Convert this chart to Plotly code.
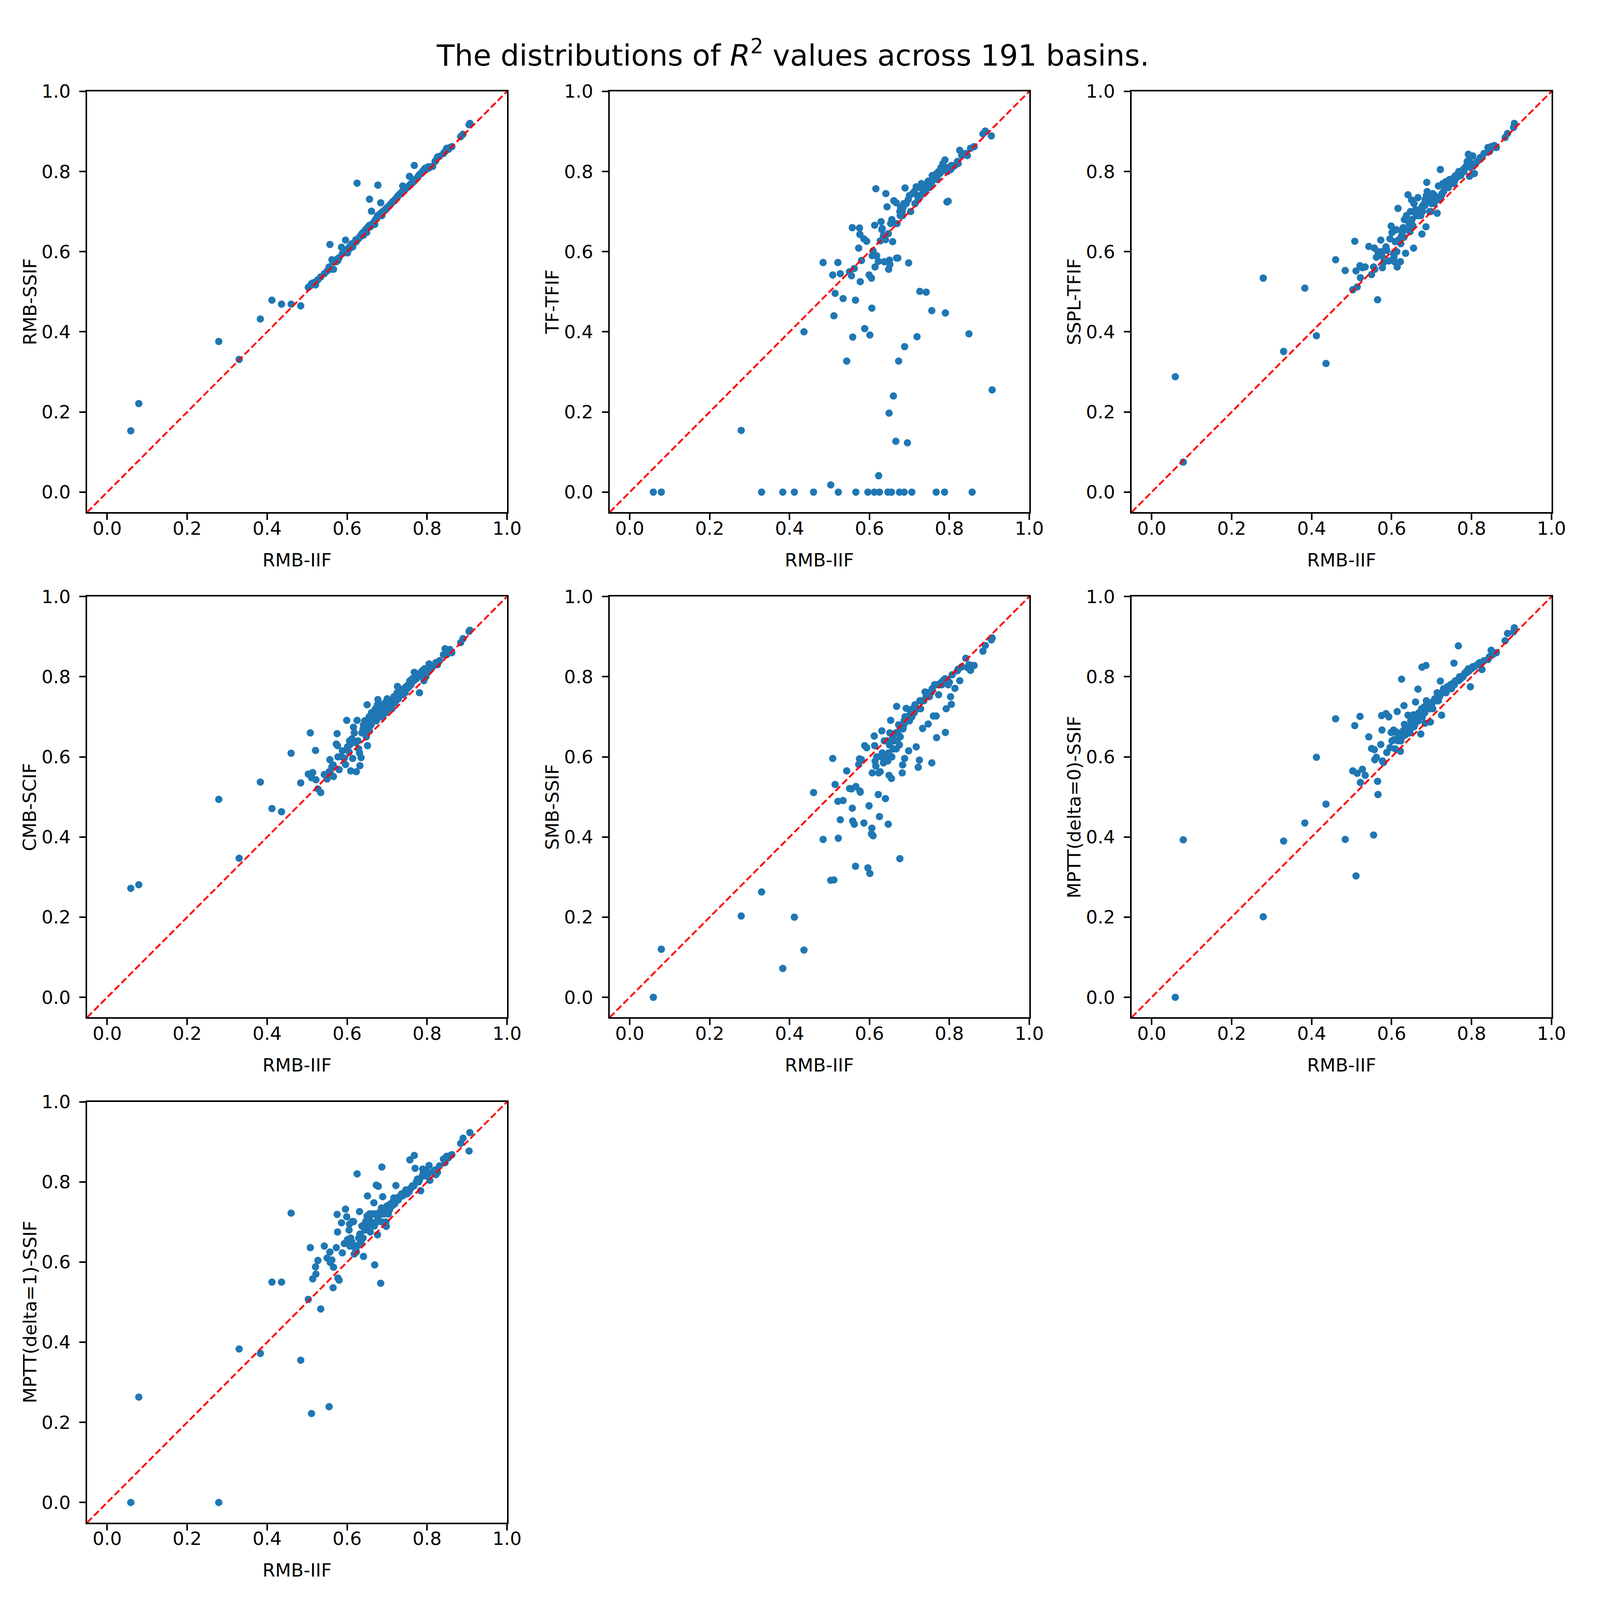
import plotly.graph_objects as go

# RMB-IIF (shared x for all panels)
rmb_iif = [0.059, 0.079, 0.279, 0.330, 0.383, 0.412, 0.436, 0.460, 0.484, 0.503,
           0.508, 0.511, 0.514, 0.521, 0.522, 0.527, 0.534, 0.543, 0.550, 0.555,
           0.557, 0.558, 0.562, 0.565, 0.566, 0.573, 0.575, 0.576, 0.577, 0.580,
           0.586, 0.588, 0.593, 0.596, 0.599, 0.601, 0.605, 0.606, 0.607, 0.609,
           0.612, 0.613, 0.614, 0.616, 0.618, 0.622, 0.623, 0.625, 0.627, 0.629,
           0.631, 0.632, 0.635, 0.637, 0.640, 0.641, 0.644, 0.646, 0.647, 0.648,
           0.649, 0.650, 0.651, 0.653, 0.655, 0.656, 0.658, 0.660, 0.661, 0.666,
           0.667, 0.668, 0.669, 0.671, 0.673, 0.675, 0.676, 0.677, 0.678, 0.682,
           0.683, 0.684, 0.686, 0.687, 0.688, 0.689, 0.692, 0.695, 0.697, 0.698,
           0.700, 0.703, 0.706, 0.708, 0.712, 0.714, 0.717, 0.719, 0.720, 0.722,
           0.725, 0.726, 0.728, 0.730, 0.733, 0.736, 0.739, 0.742, 0.745, 0.747,
           0.750, 0.753, 0.755, 0.756, 0.757, 0.760, 0.763, 0.767, 0.768, 0.770,
           0.773, 0.776, 0.779, 0.781, 0.784, 0.788, 0.789, 0.790, 0.792, 0.794,
           0.795, 0.797, 0.800, 0.803, 0.805, 0.807, 0.814, 0.820, 0.822, 0.826,
           0.831, 0.841, 0.845, 0.849, 0.853, 0.857, 0.862, 0.884, 0.890, 0.905,
           0.907]

rmb_ssif = [0.153, 0.221, 0.376, 0.331, 0.432, 0.479, 0.469, 0.469, 0.465, 0.511,
            0.515, 0.520, 0.522, 0.517, 0.525, 0.530, 0.537, 0.545, 0.552, 0.562,
            0.618, 0.556, 0.580, 0.575, 0.556, 0.575, 0.580, 0.582, 0.578, 0.585,
            0.611, 0.595, 0.600, 0.629, 0.605, 0.597, 0.610, 0.612, 0.608, 0.615,
            0.620, 0.618, 0.612, 0.620, 0.622, 0.630, 0.625, 0.771, 0.632, 0.633,
            0.635, 0.638, 0.640, 0.645, 0.648, 0.641, 0.650, 0.655, 0.652, 0.650,
            0.648, 0.658, 0.660, 0.662, 0.665, 0.731, 0.662, 0.668, 0.701, 0.672,
            0.670, 0.675, 0.668, 0.680, 0.682, 0.686, 0.690, 0.766, 0.688, 0.690,
            0.695, 0.722, 0.695, 0.690, 0.698, 0.700, 0.702, 0.705, 0.705, 0.708,
            0.710, 0.712, 0.715, 0.718, 0.722, 0.725, 0.726, 0.728, 0.730, 0.732,
            0.735, 0.738, 0.740, 0.742, 0.745, 0.748, 0.764, 0.752, 0.755, 0.758,
            0.760, 0.762, 0.765, 0.788, 0.766, 0.770, 0.772, 0.775, 0.815, 0.780,
            0.782, 0.785, 0.790, 0.792, 0.795, 0.798, 0.800, 0.802, 0.804, 0.806,
            0.808, 0.805, 0.810, 0.812, 0.809, 0.812, 0.813, 0.825, 0.828, 0.836,
            0.838, 0.845, 0.850, 0.858, 0.855, 0.860, 0.862, 0.887, 0.893, 0.917,
            0.920]

tf_tfif = [0.000, 0.000, 0.154, 0.000, 0.000, 0.000, 0.400, 0.000, 0.573, 0.018,
           0.542, 0.440, 0.496, 0.573, 0.000, 0.545, 0.483, 0.327, 0.550, 0.540,
           0.660, 0.387, 0.558, 0.479, 0.000, 0.609, 0.659, 0.643, 0.525, 0.578,
           0.632, 0.408, 0.626, 0.000, 0.542, 0.392, 0.534, 0.459, 0.590, 0.602,
           0.000, 0.666, 0.562, 0.757, 0.590, 0.576, 0.041, 0.000, 0.627, 0.675,
           0.655, 0.658, 0.640, 0.575, 0.630, 0.745, 0.712, 0.000, 0.645, 0.556,
           0.197, 0.579, 0.568, 0.670, 0.000, 0.680, 0.625, 0.240, 0.727, 0.127,
           0.722, 0.584, 0.670, 0.584, 0.327, 0.000, 0.700, 0.690, 0.710, 0.700,
           0.690, 0.710, 0.720, 0.000, 0.363, 0.759, 0.720, 0.123, 0.730, 0.572,
           0.740, 0.700, 0.000, 0.745, 0.750, 0.720, 0.762, 0.388, 0.740, 0.730,
           0.760, 0.501, 0.740, 0.770, 0.745, 0.760, 0.750, 0.499, 0.770, 0.776,
           0.760, 0.775, 0.770, 0.453, 0.790, 0.780, 0.790, 0.000, 0.795, 0.780,
           0.800, 0.795, 0.810, 0.800, 0.820, 0.000, 0.829, 0.447, 0.810, 0.724,
           0.800, 0.726, 0.810, 0.805, 0.815, 0.810, 0.815, 0.825, 0.820, 0.853,
           0.840, 0.845, 0.840, 0.395, 0.858, 0.000, 0.862, 0.894, 0.901, 0.889,
           0.255]

sspl_tfif = [0.288, 0.075, 0.534, 0.351, 0.509, 0.390, 0.321, 0.580, 0.553, 0.505,
             0.626, 0.552, 0.512, 0.565, 0.535, 0.560, 0.562, 0.613, 0.543, 0.562,
             0.609, 0.556, 0.586, 0.480, 0.600, 0.629, 0.600, 0.589, 0.560, 0.573,
             0.612, 0.603, 0.577, 0.632, 0.664, 0.648, 0.595, 0.587, 0.575, 0.625,
             0.655, 0.600, 0.562, 0.708, 0.630, 0.575, 0.620, 0.640, 0.650, 0.660,
             0.636, 0.680, 0.596, 0.690, 0.655, 0.742, 0.670, 0.650, 0.700, 0.660,
             0.675, 0.729, 0.680, 0.665, 0.609, 0.720, 0.700, 0.705, 0.690, 0.735,
             0.700, 0.690, 0.700, 0.705, 0.690, 0.710, 0.644, 0.700, 0.715, 0.720,
             0.715, 0.730, 0.662, 0.740, 0.773, 0.750, 0.730, 0.700, 0.730, 0.700,
             0.720, 0.745, 0.720, 0.740, 0.730, 0.696, 0.764, 0.730, 0.735, 0.805,
             0.740, 0.745, 0.770, 0.750, 0.760, 0.775, 0.765, 0.760, 0.780, 0.770,
             0.775, 0.780, 0.770, 0.785, 0.775, 0.790, 0.785, 0.790, 0.800, 0.795,
             0.790, 0.800, 0.805, 0.800, 0.810, 0.815, 0.825, 0.820, 0.843, 0.830,
             0.788, 0.810, 0.820, 0.839, 0.815, 0.795, 0.825, 0.830, 0.835, 0.835,
             0.845, 0.860, 0.850, 0.862, 0.860, 0.865, 0.860, 0.885, 0.895, 0.910,
             0.920]

cmb_scif = [0.272, 0.281, 0.494, 0.347, 0.537, 0.471, 0.463, 0.609, 0.535, 0.557,
            0.660, 0.548, 0.561, 0.616, 0.543, 0.520, 0.511, 0.556, 0.545, 0.563,
            0.593, 0.560, 0.575, 0.580, 0.551, 0.632, 0.658, 0.628, 0.600, 0.568,
            0.600, 0.615, 0.597, 0.581, 0.691, 0.625, 0.612, 0.640, 0.630, 0.565,
            0.645, 0.640, 0.596, 0.674, 0.660, 0.635, 0.563, 0.691, 0.640, 0.620,
            0.610, 0.578, 0.598, 0.660, 0.670, 0.680, 0.690, 0.660, 0.670, 0.650,
            0.672, 0.730, 0.628, 0.690, 0.700, 0.665, 0.700, 0.680, 0.710, 0.705,
            0.690, 0.715, 0.700, 0.720, 0.690, 0.710, 0.730, 0.743, 0.700, 0.720,
            0.700, 0.710, 0.700, 0.725, 0.730, 0.700, 0.720, 0.735, 0.710, 0.720,
            0.745, 0.740, 0.720, 0.730, 0.720, 0.740, 0.750, 0.735, 0.745, 0.740,
            0.760, 0.776, 0.745, 0.750, 0.760, 0.765, 0.755, 0.770, 0.760, 0.775,
            0.770, 0.780, 0.775, 0.780, 0.790, 0.780, 0.795, 0.790, 0.811, 0.800,
            0.795, 0.800, 0.805, 0.760, 0.810, 0.815, 0.800, 0.805, 0.790, 0.820,
            0.810, 0.800, 0.815, 0.812, 0.832, 0.820, 0.825, 0.830, 0.835, 0.830,
            0.840, 0.855, 0.870, 0.855, 0.860, 0.868, 0.860, 0.885, 0.895, 0.913,
            0.916]

smb_ssif = [0.000, 0.120, 0.203, 0.263, 0.072, 0.200, 0.118, 0.511, 0.394, 0.292,
            0.596, 0.293, 0.531, 0.489, 0.397, 0.443, 0.491, 0.565, 0.521, 0.520,
            0.472, 0.440, 0.432, 0.327, 0.526, 0.581, 0.595, 0.515, 0.512, 0.593,
            0.435, 0.628, 0.623, 0.323, 0.478, 0.309, 0.408, 0.422, 0.560, 0.403,
            0.652, 0.628, 0.589, 0.577, 0.600, 0.506, 0.560, 0.451, 0.563, 0.600,
            0.665, 0.610, 0.585, 0.640, 0.496, 0.600, 0.640, 0.590, 0.432, 0.610,
            0.554, 0.630, 0.660, 0.691, 0.546, 0.600, 0.650, 0.620, 0.640, 0.660,
            0.620, 0.726, 0.640, 0.660, 0.680, 0.630, 0.346, 0.650, 0.670, 0.560,
            0.580, 0.670, 0.680, 0.690, 0.596, 0.700, 0.721, 0.690, 0.700, 0.615,
            0.690, 0.710, 0.700, 0.720, 0.710, 0.730, 0.625, 0.720, 0.720, 0.574,
            0.592, 0.740, 0.720, 0.740, 0.671, 0.740, 0.762, 0.750, 0.760, 0.682,
            0.750, 0.760, 0.762, 0.585, 0.770, 0.702, 0.780, 0.702, 0.648, 0.780,
            0.755, 0.780, 0.785, 0.780, 0.790, 0.791, 0.795, 0.661, 0.720, 0.793,
            0.793, 0.780, 0.786, 0.750, 0.731, 0.805, 0.771, 0.815, 0.819, 0.790,
            0.825, 0.846, 0.823, 0.830, 0.816, 0.828, 0.828, 0.864, 0.878, 0.892,
            0.897]

mptt0_ssif = [0.000, 0.393, 0.201, 0.390, 0.435, 0.599, 0.482, 0.695, 0.394, 0.565,
              0.678, 0.303, 0.559, 0.701, 0.536, 0.569, 0.554, 0.650, 0.621, 0.405,
              0.618, 0.593, 0.599, 0.539, 0.506, 0.631, 0.703, 0.667, 0.590, 0.586,
              0.708, 0.611, 0.700, 0.623, 0.661, 0.640, 0.667, 0.643, 0.662, 0.620,
              0.662, 0.643, 0.713, 0.640, 0.655, 0.614, 0.640, 0.794, 0.650, 0.665,
              0.728, 0.681, 0.655, 0.660, 0.665, 0.704, 0.672, 0.660, 0.670, 0.690,
              0.680, 0.700, 0.695, 0.690, 0.705, 0.675, 0.680, 0.737, 0.700, 0.769,
              0.690, 0.710, 0.700, 0.710, 0.657, 0.720, 0.824, 0.700, 0.720, 0.725,
              0.710, 0.684, 0.828, 0.740, 0.720, 0.730, 0.730, 0.720, 0.687, 0.735,
              0.730, 0.720, 0.740, 0.745, 0.740, 0.760, 0.740, 0.750, 0.750, 0.789,
              0.704, 0.760, 0.760, 0.770, 0.765, 0.760, 0.775, 0.770, 0.775, 0.780,
              0.770, 0.780, 0.785, 0.834, 0.780, 0.790, 0.790, 0.877, 0.790, 0.800,
              0.795, 0.800, 0.800, 0.805, 0.810, 0.810, 0.815, 0.815, 0.820, 0.815,
              0.820, 0.775, 0.820, 0.825, 0.825, 0.825, 0.830, 0.835, 0.830, 0.818,
              0.840, 0.843, 0.850, 0.866, 0.855, 0.860, 0.860, 0.890, 0.908, 0.912,
              0.922]

mptt1_ssif = [0.000, 0.263, 0.000, 0.383, 0.372, 0.550, 0.550, 0.722, 0.355, 0.507,
              0.636, 0.222, 0.558, 0.588, 0.570, 0.604, 0.483, 0.640, 0.610, 0.239,
              0.625, 0.599, 0.605, 0.536, 0.587, 0.636, 0.719, 0.675, 0.560, 0.555,
              0.698, 0.623, 0.646, 0.732, 0.713, 0.656, 0.680, 0.695, 0.640, 0.660,
              0.650, 0.701, 0.640, 0.701, 0.620, 0.630, 0.625, 0.820, 0.642, 0.660,
              0.726, 0.670, 0.648, 0.690, 0.660, 0.614, 0.680, 0.700, 0.700, 0.690,
              0.705, 0.715, 0.765, 0.690, 0.710, 0.720, 0.675, 0.720, 0.700, 0.720,
              0.748, 0.690, 0.593, 0.720, 0.792, 0.700, 0.668, 0.710, 0.789, 0.725,
              0.720, 0.547, 0.735, 0.837, 0.700, 0.763, 0.720, 0.730, 0.700, 0.689,
              0.740, 0.720, 0.730, 0.745, 0.740, 0.750, 0.760, 0.745, 0.750, 0.791,
              0.760, 0.760, 0.755, 0.760, 0.765, 0.770, 0.765, 0.770, 0.775, 0.780,
              0.770, 0.780, 0.775, 0.780, 0.855, 0.785, 0.790, 0.790, 0.866, 0.834,
              0.800, 0.807, 0.800, 0.805, 0.778, 0.815, 0.832, 0.820, 0.815, 0.820,
              0.825, 0.830, 0.815, 0.820, 0.841, 0.804, 0.825, 0.830, 0.818, 0.824,
              0.840, 0.857, 0.848, 0.864, 0.860, 0.865, 0.868, 0.896, 0.909, 0.877,
              0.923]

panel_series = [rmb_ssif, tf_tfif, sspl_tfif, cmb_scif, smb_ssif, mptt0_ssif, mptt1_ssif]
panel_ylabels = ["RMB-SSIF", "TF-TFIF", "SSPL-TFIF", "CMB-SCIF", "SMB-SSIF",
                 "MPTT(delta=0)-SSIF", "MPTT(delta=1)-SSIF"]
x_label = "RMB-IIF"
title_text = "The distributions of <i>R</i><sup>2</sup> values across 191 basins."
diag_line = [-0.05, 1.0]
tick_vals = [0.0, 0.2, 0.4, 0.6, 0.8, 1.0]
tick_text = ["0.0", "0.2", "0.4", "0.6", "0.8", "1.0"]

# geometry measured on the 4800 px reference; the page viewport is 4096 css px,
# so every px size is scaled by S
REF = 4800.0
VIEW = 4096
S = VIEW / REF
col_px = [(264, 1535), (1846, 3116), (3426, 4697)]
row_px = [(243, 1514), (1769, 3040), (3295, 4566)]
FONT = "DejaVu Sans"
TICK_FS = 55 * S
TITLE_FS = 88 * S

fig = go.Figure()
layout = dict(
    width=VIEW, height=VIEW,
    margin=dict(l=0, r=0, t=0, b=0),
    paper_bgcolor="white", plot_bgcolor="white",
    showlegend=False,
    font=dict(family=FONT, size=TICK_FS, color="black"),
)
annotations = []

for i, ys in enumerate(panel_series):
    r, c = divmod(i, 3)
    L, R = col_px[c]
    T, B = row_px[r]
    n = "" if i == 0 else str(i + 1)
    xa = "x" + n
    ya = "y" + n
    fig.add_trace(go.Scatter(
        x=rmb_iif, y=ys, mode="markers", xaxis=xa, yaxis=ya,
        marker=dict(size=22 * S, color="#1f77b4", line=dict(width=0)),
        hoverinfo="skip"))
    fig.add_trace(go.Scatter(
        x=diag_line, y=diag_line, mode="lines", xaxis=xa, yaxis=ya,
        line=dict(color="red", width=5.5 * S,
                  dash="%.1fpx,%.1fpx" % (20 * S, 9 * S)),
        hoverinfo="skip"))
    common = dict(
        range=[-0.05, 1.0], showgrid=False, zeroline=False,
        showline=True, linecolor="black", linewidth=4.4 * S, mirror=True,
        ticks="outside", ticklen=19 * S, tickwidth=4.4 * S, tickcolor="black",
        tickvals=tick_vals, ticktext=tick_text,
        tickfont=dict(family=FONT, size=TICK_FS, color="black"),
    )
    layout["xaxis" + n] = dict(common, domain=[L / REF, R / REF], anchor=ya,
                               ticklabelstandoff=-19)
    layout["yaxis" + n] = dict(common, domain=[1 - B / REF, 1 - T / REF], anchor=xa,
                               ticklabelstandoff=int(16 * S))
    annotations.append(dict(
        text=x_label, xref="paper", yref="paper",
        x=(L + R) / 2 / REF, y=1 - (B + 144) / REF,
        xanchor="center", yanchor="middle", showarrow=False,
        font=dict(family=FONT, size=TICK_FS, color="black")))
    annotations.append(dict(
        text=panel_ylabels[i], xref="paper", yref="paper",
        x=(L - 174) / REF, y=1 - (T + B) / 2 / REF,
        xanchor="center", yanchor="middle", showarrow=False, textangle=-90,
        font=dict(family=FONT, size=TICK_FS, color="black")))

annotations.append(dict(
    text=title_text, xref="paper", yref="paper",
    x=0.5, y=1 - 128 / REF, xanchor="center", yanchor="middle", showarrow=False,
    font=dict(family=FONT, size=TITLE_FS, color="black")))

layout["annotations"] = annotations
fig.update_layout(**layout)

fig.write_html("out.html", config={"displayModeBar": False},
               post_script="document.body.style.margin='0';")
